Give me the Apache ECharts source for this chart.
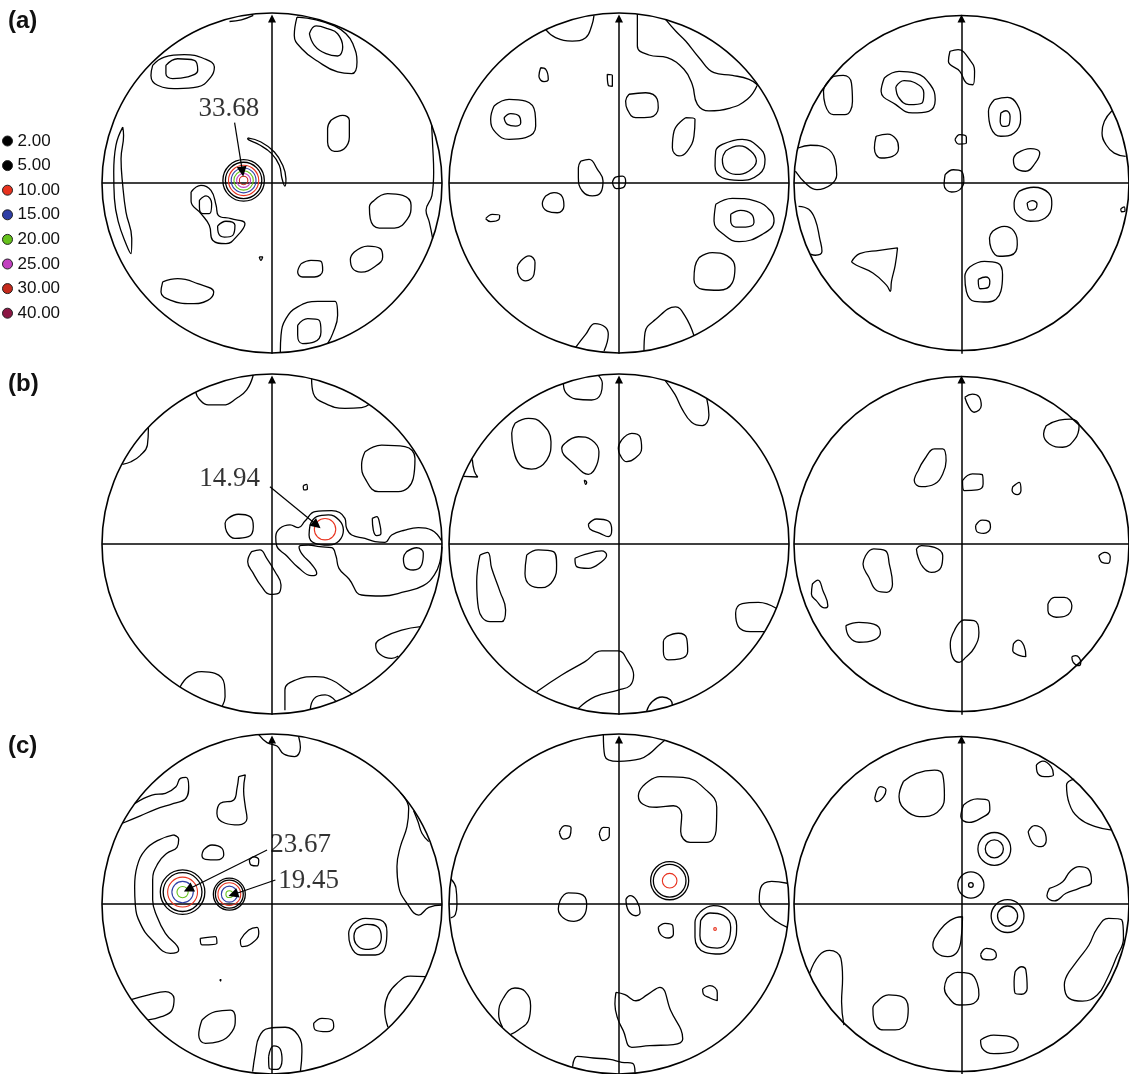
<!DOCTYPE html>
<html>
<head>
<meta charset="utf-8">
<script src="https://cdn.jsdelivr.net/npm/echarts/dist/echarts.min.js"></script>
<style>
  html, body { margin: 0; padding: 0; background: #ffffff; }
  #chart { width: 1129px; height: 1074px; }
</style>
</head>
<body>
<div id="chart"></div>
<script>
// Contour levels (multiples of random density) and the colour of each level line
const levels = ['2.00', '5.00', '10.00', '15.00', '20.00', '25.00', '30.00', '40.00'];
const levelColors = ['#000000', '#000000', '#e8321e', '#2e3ea6', '#66c21c', '#c23fc0', '#c52a1c', '#8b1643'];
const rowTitles = ['(a)', '(b)', '(c)'];

// Coordinates of every contour are given on the projection plane:
// net radius = 100, x to the right, y upwards.
// *Loops: closed level-2.00 contours, *Inner: closed level-5.00 contours,
// *Arcs: contours that run into the primitive circle (left open),
// *Peaks: near-circular contours around maxima [x, y, radius, levelIndex].

// ---------- row (a) ----------
const a1Loops = [
  [[-70.2,69.2],[-63.3,74.1],[-51.6,75.5],[-39.8,73.1],[-33.9,68.2],[-35.9,62.4],[-43.7,56.5],[-55.5,55.5],[-67.3,57.5],[-71.2,63.3]],
  [[14.7,97.6],[13.1,86.9],[17.5,79.0],[26.9,71.6],[38.6,65.3],[46.9,64.3],[50.0,71.2],[47.5,82.0],[43.5,87.8],[36.7,92.4],[26.0,96.0]],
  [[-87.8,32.9],[-91.8,22.2],[-93.1,6.5],[-92.7,-9.2],[-90.4,-22.9],[-85.9,-35.7],[-82.9,-41.6],[-82.5,-32.7],[-85.9,-17.1],[-87.8,-1.4],[-88.8,14.3],[-87.3,28.0]],
  [[34.7,36.9],[41.6,39.8],[45.5,36.9],[45.5,27.1],[42.5,20.2],[36.7,18.6],[32.7,24.1],[32.7,32.0]],
  [[-14.3,26.5],[-6.5,24.1],[1.4,18.2],[6.3,10.4],[8.2,2.5],[7.6,-1.8],[5.9,2.5],[4.3,10.4],[-0.2,17.3],[-7.5,22.5],[-13.9,25.5]],
  [[-47.6,-5.3],[-41.8,-1.4],[-35.9,-4.3],[-32.9,-13.1],[-31.6,-19.0],[-24.1,-21.0],[-15.9,-23.9],[-20.2,-30.8],[-27.1,-35.7],[-34.9,-33.7],[-36.9,-24.9],[-41.8,-18.0],[-47.6,-10.8]],
  [[-7.5,-43.5],[-5.5,-43.5],[-6.5,-45.5]],
  [[60.2,-10.2],[68.0,-6.3],[76.9,-7.3],[81.8,-13.1],[79.8,-21.0],[72.0,-26.5],[63.1,-26.5],[57.8,-21.0],[57.3,-14.1]],
  [[48.4,-40.6],[56.3,-37.1],[63.7,-38.6],[65.1,-43.5],[60.2,-49.4],[52.4,-52.4],[47.5,-50.4],[46.1,-44.9]],
  [[17.1,-47.5],[22.9,-45.5],[28.8,-46.1],[29.8,-51.4],[24.9,-55.3],[18.0,-55.3],[15.1,-52.4]],
  [[-64.3,-58.2],[-55.5,-56.3],[-43.7,-59.2],[-34.3,-64.1],[-37.8,-69.0],[-47.6,-71.0],[-59.4,-69.0],[-65.3,-64.1]]
];
const a1Inner = [
  [[-62.4,69.2],[-55.5,73.1],[-45.7,72.2],[-43.7,66.3],[-49.6,62.4],[-58.4,61.4],[-62.4,64.3]],
  [[22.0,87.8],[25.9,92.4],[32.7,90.8],[38.6,87.8],[41.6,80.0],[38.6,74.7],[31.8,76.1],[24.9,81.0]],
  [[-42.7,-10.2],[-38.8,-7.6],[-35.5,-12.2],[-36.9,-18.0],[-40.8,-18.0],[-42.7,-14.1]],
  [[-32.0,-25.3],[-27.1,-22.5],[-21.8,-24.9],[-23.1,-30.8],[-28.0,-31.8],[-31.6,-29.2]],
  [[15.1,-83.7],[21.0,-79.8],[27.8,-80.8],[28.8,-87.6],[24.9,-93.5],[18.0,-94.5],[15.1,-89.6]]
];
const a1Arcs = [
  [[-25.0,95.0],[-18.0,96.0],[-11.0,98.6]],
  [[93.9,33.9],[94.5,22.2],[95.1,6.5],[94.1,-7.3],[90.6,-16.1],[92.5,-22.9],[94.5,-32.7]],
  [[4.9,-99.6],[5.3,-89.6],[8.2,-79.8],[15.1,-72.9],[26.9,-69.6],[37.1,-69.6],[38.6,-77.8],[35.7,-88.6],[32.7,-94.5]]
];
const a1Peaks = [[-16.7,1.5,12.2,0],[-16.7,1.5,10.7,1],[-16.7,1.5,8.9,2],[-16.7,1.5,7.3,3],[-16.7,1.5,5.7,4],[-16.7,1.5,4.1,5],[-16.7,1.5,2.5,6]];

const a2Loops = [
  [[-46.1,67.8],[-43.1,66.9],[-41.6,61.0],[-44.1,59.6],[-47.1,62.9]],
  [[-6.9,63.9],[-3.9,63.3],[-3.9,56.9],[-6.3,57.5]],
  [[-73.5,45.3],[-64.7,49.2],[-54.9,48.2],[-49.4,41.4],[-49.0,33.5],[-54.9,26.7],[-64.7,25.7],[-72.5,29.6],[-75.5,37.5]],
  [[5.9,52.2],[15.7,53.1],[22.5,49.2],[23.1,44.3],[18.6,38.8],[9.8,38.4],[4.9,43.3],[3.9,48.2]],
  [[39.2,38.4],[44.7,37.5],[44.1,27.6],[40.2,18.8],[35.3,15.9],[31.4,20.8],[32.4,30.6]],
  [[60.8,22.7],[72.5,25.7],[81.4,21.8],[85.9,13.9],[82.4,5.1],[70.6,1.6],[60.8,3.1],[56.5,10.0],[56.9,18.8]],
  [[-3.9,0.2],[-2.0,3.5],[2.0,4.1],[3.9,1.2],[2.4,-2.7],[-1.6,-3.3]],
  [[-22.5,12.9],[-17.6,13.9],[-12.7,8.0],[-9.4,1.2],[-10.8,-5.7],[-15.7,-7.6],[-21.6,-4.7],[-23.9,3.1],[-23.9,9.0]],
  [[-43.1,-7.6],[-38.2,-5.7],[-33.3,-8.2],[-32.4,-13.5],[-36.3,-17.5],[-42.2,-16.5],[-45.1,-12.2]],
  [[-78.4,-21.0],[-74.5,-18.4],[-70.2,-19.0],[-70.6,-21.4],[-75.5,-22.7]],
  [[56.9,-12.5],[66.7,-9.0],[80.4,-10.6],[89.2,-16.5],[91.2,-22.4],[84.3,-30.2],[70.6,-34.5],[62.7,-31.2],[55.9,-22.4]],
  [[47.1,-43.9],[54.9,-41.0],[63.7,-42.9],[68.2,-49.8],[66.7,-58.6],[58.8,-63.1],[49.0,-62.5],[44.1,-56.7],[44.7,-49.0]],
  [[-57.8,-45.9],[-52.9,-42.9],[-49.4,-46.9],[-50.0,-53.7],[-54.9,-57.6],[-58.8,-54.7],[-59.8,-49.8]]
];
const a2Inner = [
  [[-67.6,38.4],[-63.7,40.8],[-58.8,39.4],[-57.8,35.5],[-60.8,33.5],[-65.7,34.5]],
  [[62.7,18.8],[70.6,21.8],[77.5,18.8],[80.8,12.9],[76.5,7.1],[68.6,5.1],[62.4,8.0],[60.8,13.9]],
  [[65.7,-18.4],[71.6,-16.1],[78.0,-18.4],[79.4,-23.3],[74.5,-25.9],[68.6,-25.9],[65.7,-22.4]]
];
const a2Arcs = [
  [[-43.1,90.2],[-37.3,85.5],[-27.5,83.5],[-19.6,85.5],[-16.1,92.4],[-14.7,98.6]],
  [[10.8,99.4],[10.8,80.6],[17.6,75.3],[28.4,73.7],[38.2,66.9],[43.1,58.0],[46.1,46.3],[52.9,42.4],[64.7,43.9],[75.5,49.2],[81.4,57.6]],
  [[27.5,96.1],[33.3,89.4],[39.2,83.5],[47.1,73.7],[55.9,64.9],[66.7,63.3],[76.5,61.0],[81.4,57.8]],
  [[-25.5,-96.7],[-19.6,-89.0],[-14.1,-82.7],[-8.2,-84.7],[-6.3,-89.0],[-8.8,-98.8]],
  [[14.7,-98.8],[15.3,-88.0],[21.6,-80.2],[33.3,-72.9],[38.8,-78.2],[44.1,-89.8]]
];
const a2Peaks = [];

const a3Loops = [
  [[-6.9,77.5],[-2.0,78.4],[4.9,72.5],[7.8,65.7],[6.9,57.8],[2.9,58.8],[-1.0,65.7],[-7.8,71.6]],
  [[-76.5,62.7],[-70.6,63.3],[-65.7,58.8],[-65.1,48.0],[-69.6,40.2],[-76.5,40.2],[-81.4,46.1],[-82.4,53.9]],
  [[-46.1,61.8],[-37.3,65.7],[-27.5,64.7],[-18.6,57.8],[-15.7,49.0],[-19.6,42.2],[-29.4,41.2],[-39.2,46.1],[-48.0,53.9]],
  [[19.6,49.0],[27.5,50.4],[33.3,46.1],[35.3,37.3],[31.4,29.4],[23.5,27.5],[17.6,32.4],[16.1,42.2]],
  [[-51.0,27.5],[-44.1,28.8],[-38.8,25.5],[-37.6,20.6],[-41.2,15.7],[-48.0,14.7],[-52.0,20.6]],
  [[-3.9,25.5],[-1.0,28.4],[2.9,26.9],[2.9,23.5],[-1.6,22.9]],
  [[33.3,17.6],[41.2,20.2],[46.7,17.6],[44.1,11.8],[38.2,6.9],[32.4,8.8],[31.0,13.7]],
  [[-9.8,4.9],[-4.9,7.8],[0.0,6.9],[1.4,1.0],[-1.0,-3.9],[-5.9,-5.3],[-10.4,-1.0]],
  [[34.3,-4.9],[43.1,-2.5],[52.0,-5.9],[53.9,-12.7],[50.0,-20.6],[41.2,-22.5],[33.3,-18.6],[31.4,-11.8]],
  [[95.1,-15.1],[97.1,-14.1],[97.6,-16.5],[95.7,-16.9]],
  [[18.6,-28.4],[25.5,-25.5],[31.4,-28.4],[33.3,-36.3],[29.4,-42.5],[22.5,-43.1],[17.6,-38.2],[16.7,-32.4]],
  [[-65.7,-46.5],[-60.8,-41.6],[-49.0,-39.6],[-38.2,-38.2],[-39.6,-48.4],[-41.8,-57.8],[-42.5,-63.7],[-44.7,-60.2],[-52.9,-52.9],[-62.7,-48.4]],
  [[4.9,-49.4],[13.7,-46.1],[21.6,-47.1],[24.5,-53.9],[23.5,-63.7],[15.7,-70.0],[7.8,-69.6],[2.9,-63.7],[2.0,-54.9]]
];
const a3Inner = [
  [[-39.2,56.5],[-34.3,60.2],[-27.5,58.8],[-22.5,52.9],[-23.5,47.1],[-31.4,46.1],[-37.3,50.0]],
  [[23.5,41.2],[26.5,42.5],[29.0,39.2],[28.4,34.3],[25.1,33.3],[23.1,36.3]],
  [[39.2,-11.8],[42.2,-10.4],[45.1,-12.4],[44.1,-15.1],[40.8,-15.9]],
  [[10.0,-56.7],[14.5,-55.3],[16.9,-57.8],[15.9,-61.4],[11.2,-62.2]]
];
const a3Arcs = [
  [[89.8,42.5],[85.3,36.3],[83.9,29.4],[86.3,22.5],[91.2,17.6],[98.0,15.7]],
  [[-97.6,20.6],[-90.2,22.2],[-80.8,20.6],[-75.5,13.7],[-74.5,4.9],[-78.0,-1.0],[-86.3,-3.9],[-92.2,-1.0],[-99.2,7.0]],
  [[-97.3,-13.7],[-91.2,-15.5],[-87.3,-21.6],[-84.7,-32.4],[-83.3,-40.2],[-87.3,-42.5],[-90.2,-41.8]]
];
const a3Peaks = [];

// ---------- row (b) ----------
const b1Loops = [
  [[54.7,54.3],[64.5,58.2],[78.2,57.3],[84.1,50.4],[83.1,38.6],[74.3,30.8],[62.5,30.8],[54.7,38.6],[52.7,46.5]],
  [[18.4,34.3],[20.4,35.1],[20.8,32.4],[18.8,31.8]],
  [[-25.7,15.1],[-19.8,17.5],[-12.9,16.1],[-11.0,10.2],[-13.9,4.3],[-21.8,3.3],[-26.7,7.3],[-27.6,12.2]],
  [[59.0,15.1],[61.6,16.1],[63.5,11.2],[64.1,6.3],[61.6,4.9],[59.6,8.2]],
  [[-12.0,-4.5],[-7.1,-3.5],[-3.1,-8.4],[1.8,-16.3],[5.3,-24.1],[3.7,-29.0],[-1.2,-29.6],[-6.1,-25.1],[-11.0,-17.3],[-14.3,-10.4]]
];
const b1Inner = [
  [[22.4,11.2],[26.3,16.1],[33.1,17.1],[39.4,14.1],[42.0,8.2],[39.4,1.8],[33.1,-0.6],[25.3,0.4],[21.8,5.3]],
  [[79.2,-4.5],[85.1,-2.2],[89.0,-5.5],[88.0,-12.4],[83.1,-15.3],[78.2,-13.3],[77.3,-8.4]]
];
const b1Arcs = [
  [[-44.9,89.4],[-42.9,85.3],[-37.5,81.8],[-28.6,81.8],[-20.8,85.7],[-14.9,90.6],[-11.0,99.4]],
  [[23.3,97.3],[24.3,88.6],[31.2,82.7],[42.9,79.8],[52.7,80.2],[57.3,82.2]],
  [[-72.7,68.6],[-73.3,58.2],[-77.6,52.0],[-82.9,48.4],[-88.0,46.9]],
  [[99.8,1.8],[93.9,8.2],[86.1,9.6],[78.2,8.2],[70.4,5.3],[66.5,1.0],[60.6,1.4],[54.7,3.3],[46.9,5.3],[43.9,9.2],[42.9,15.1],[35.1,19.6],[25.3,19.0],[19.4,13.5],[15.5,9.6],[10.6,11.2],[4.7,9.2],[2.2,4.3],[2.7,-1.0],[8.6,-6.9],[15.5,-13.9],[23.3,-18.6],[26.3,-17.3],[23.3,-12.0],[17.8,-6.1],[15.9,-1.6],[21.4,-0.6],[28.2,-1.6],[35.1,-2.2],[37.6,-6.9],[39.4,-14.3],[45.3,-20.6],[52.7,-30.0],[64.5,-30.6],[78.2,-28.0],[89.0,-24.5],[95.5,-18.2],[98.8,-10.4],[100.0,-1.6]],
  [[87.5,-48.6],[76.3,-50.6],[66.5,-54.5],[61.0,-59.4],[63.5,-64.9],[70.4,-67.3],[74.3,-65.9]],
  [[-54.1,-84.1],[-49.2,-78.0],[-41.4,-75.1],[-33.5,-76.1],[-28.0,-82.5],[-27.6,-89.8],[-29.2,-95.3]],
  [[7.6,-97.8],[7.6,-85.9],[13.9,-80.0],[25.3,-78.0],[35.1,-80.0],[43.9,-85.9],[47.3,-88.4]],
  [[22.5,-97.5],[24.9,-90.8],[31.2,-88.8],[37.5,-92.4]]
];
const b1Peaks = [[31.2,8.7,6.3,2]];

const b2Loops = [
  [[-61.2,71.0],[-53.3,73.9],[-45.5,71.0],[-40.0,60.2],[-42.5,49.4],[-51.4,44.1],[-58.2,46.5],[-62.2,56.3],[-63.1,65.1]],
  [[-31.8,59.2],[-23.9,63.1],[-16.1,61.2],[-11.8,54.3],[-13.1,46.5],[-18.0,41.0],[-25.9,46.5],[-33.7,56.3]],
  [[1.6,61.2],[7.5,65.1],[12.4,63.1],[13.3,56.3],[9.4,50.4],[4.5,48.4],[0.6,52.4],[-0.4,56.3]],
  [[-20.4,37.6],[-19.0,36.3],[-19.6,35.1]],
  [[-18.0,11.6],[-13.1,14.7],[-6.3,13.5],[-4.3,8.2],[-6.3,4.3],[-11.2,6.3],[-17.1,8.8]],
  [[-54.3,-6.5],[-47.5,-3.5],[-38.6,-4.5],[-36.7,-12.4],[-38.6,-21.2],[-45.5,-25.7],[-52.4,-24.1],[-55.3,-17.3]],
  [[-25.9,-8.4],[-20.0,-6.1],[-10.2,-4.1],[-7.3,-6.5],[-10.2,-10.4],[-18.0,-14.3],[-24.9,-13.3]],
  [[-81.8,-6.5],[-77.3,-4.9],[-74.9,-14.3],[-70.0,-28.0],[-66.7,-38.8],[-69.0,-45.7],[-75.9,-45.7],[-82.7,-37.8],[-83.7,-22.2]],
  [[28.0,-54.5],[34.9,-52.5],[39.8,-55.5],[40.4,-63.3],[35.9,-67.6],[29.0,-68.2],[26.1,-63.3],[26.1,-57.5]]
];
const b2Inner = [];
const b2Arcs = [
  [[-32.7,94.5],[-31.4,89.2],[-25.5,85.3],[-16.1,84.7],[-10.6,88.6],[-9.8,94.5],[-12.2,99.2]],
  [[27.1,96.3],[32.9,88.0],[36.9,79.8],[42.7,71.6],[49.0,69.6],[52.9,75.9],[51.6,85.7]],
  [[-86.3,49.8],[-85.1,42.9],[-83.1,39.4],[-91.4,39.8]],
  [[92.5,-37.8],[82.0,-34.3],[72.5,-35.1],[68.6,-40.8],[70.2,-48.6],[77.1,-51.6],[85.5,-51.6]],
  [[-48.4,-86.9],[-33.7,-77.1],[-20.0,-69.2],[-10.2,-62.9],[-0.4,-62.9],[5.1,-68.8],[8.6,-77.1],[6.5,-83.3],[-0.4,-85.9],[-14.1,-89.8],[-23.9,-96.7]],
  [[16.3,-98.2],[19.6,-92.7],[25.5,-90.0],[30.2,-91.6],[31.4,-94.9]]
];
const b2Peaks = [];

const b3Loops = [
  [[2.0,86.3],[6.5,88.2],[10.4,86.7],[11.8,81.4],[7.5,77.5],[4.5,80.4]],
  [[50.6,69.6],[58.4,72.9],[65.3,73.5],[70.2,69.6],[67.8,61.8],[60.4,56.9],[52.5,58.8],[49.0,64.7]],
  [[-25.9,43.1],[-22.0,50.0],[-16.1,55.9],[-11.2,55.9],[-9.2,49.0],[-11.2,41.2],[-16.1,35.3],[-23.9,33.7],[-28.2,37.3]],
  [[0.6,37.3],[6.5,41.2],[12.4,40.8],[12.9,35.3],[9.4,31.8],[1.6,31.4]],
  [[30.6,33.7],[34.5,36.3],[35.5,31.4],[33.3,29.0],[30.2,31.4]],
  [[8.4,10.8],[12.4,14.1],[16.3,13.3],[17.3,9.8],[13.3,6.3],[9.0,7.5]],
  [[-26.9,-2.9],[-23.9,-1.0],[-16.1,-2.0],[-11.2,-6.9],[-12.2,-13.7],[-18.0,-16.7],[-22.9,-13.7],[-25.9,-7.8]],
  [[-57.3,-6.9],[-52.4,-2.9],[-45.5,-3.9],[-43.1,-11.8],[-41.2,-23.5],[-44.5,-28.4],[-50.4,-27.5],[-55.3,-19.6],[-58.8,-11.8]],
  [[82.0,-6.9],[85.5,-4.9],[88.8,-7.5],[87.5,-11.4],[83.9,-10.8]],
  [[-89.0,-23.5],[-85.7,-21.2],[-82.7,-27.5],[-79.8,-36.3],[-81.8,-37.6],[-86.7,-33.3],[-89.6,-29.4]],
  [[51.6,-35.3],[55.5,-31.4],[61.4,-31.4],[65.9,-36.3],[62.4,-42.2],[56.5,-43.1],[51.6,-39.2]],
  [[-69.0,-48.0],[-61.2,-46.1],[-52.4,-47.1],[-48.4,-52.0],[-52.4,-56.5],[-61.2,-57.8],[-67.1,-54.5]],
  [[-4.3,-51.0],[1.6,-44.7],[7.5,-45.1],[10.4,-52.0],[7.8,-60.8],[2.5,-66.7],[-1.4,-69.6],[-5.3,-66.7],[-6.7,-58.8]],
  [[31.0,-58.8],[33.9,-56.5],[37.3,-59.8],[38.4,-66.3],[34.9,-65.7],[30.6,-62.7]],
  [[65.9,-66.3],[68.2,-65.7],[71.2,-69.6],[70.2,-71.6],[66.7,-69.6]]
];
const b3Inner = [];
const b3Arcs = [];
const b3Peaks = [];

// ---------- row (c) ----------
const c1Loops = [
  [[-19.6,74.9],[-15.7,75.9],[-16.7,67.1],[-15.7,57.3],[-14.7,50.4],[-19.6,46.5],[-27.5,47.5],[-32.4,53.3],[-30.4,59.2],[-22.5,61.2],[-20.6,68.0]],
  [[-57.8,40.6],[-66.7,37.6],[-74.5,31.8],[-79.4,22.0],[-80.8,10.2],[-80.4,-0.6],[-77.5,-11.4],[-70.6,-21.2],[-59.8,-29.0],[-54.9,-27.1],[-62.7,-17.3],[-67.6,-7.5],[-70.2,2.4],[-70.2,14.1],[-67.1,23.9],[-61.8,29.8],[-55.9,33.3],[-54.9,38.0]],
  [[-40.2,31.8],[-35.3,34.7],[-29.4,32.7],[-28.4,28.8],[-32.4,25.9],[-39.2,26.3],[-41.2,28.8]],
  [[-13.3,25.9],[-10.8,27.8],[-7.8,25.9],[-8.8,22.4],[-12.2,22.9]],
  [[-42.2,-20.2],[-33.3,-19.2],[-32.4,-23.1],[-41.2,-24.1]],
  [[-18.6,-21.2],[-13.7,-15.3],[-8.8,-13.7],[-7.8,-17.3],[-11.8,-23.1],[-17.6,-25.1]],
  [[-30.7,-44.5],[-30.0,-44.5],[-30.3,-45.3]],
  [[48.0,-11.4],[54.9,-8.4],[63.7,-9.4],[67.6,-16.3],[66.7,-25.1],[60.8,-30.0],[52.0,-30.0],[46.1,-24.1],[45.1,-17.3]],
  [[-41.2,-68.2],[-33.3,-63.3],[-24.5,-62.4],[-21.6,-67.3],[-23.5,-75.1],[-31.4,-81.0],[-39.2,-82.0],[-43.1,-77.1]],
  [[24.5,-70.2],[29.4,-67.3],[35.3,-68.2],[36.3,-72.2],[32.4,-75.1],[25.5,-74.1]]
];
const c1Inner = [
  [[49.4,-14.9],[55.9,-12.0],[62.4,-13.7],[64.3,-19.6],[61.8,-25.1],[54.9,-26.7],[49.4,-23.5],[48.2,-18.8]],
  [[-2.0,-89.8],[1.0,-83.5],[4.9,-85.5],[5.9,-91.8],[2.9,-97.3],[-1.6,-96.7]]
];
const c1Arcs = [
  [[-7.8,99.6],[-2.9,94.9],[2.9,92.9],[6.9,88.2],[13.3,86.7],[16.7,92.2],[15.7,98.4]],
  [[-80.6,59.2],[-70.6,64.1],[-62.7,65.1],[-56.5,69.0],[-53.9,73.9],[-50.6,74.5],[-49.0,69.0],[-50.6,62.2],[-57.8,59.2],[-68.6,55.7],[-77.5,51.8],[-88.0,47.5]],
  [[75.5,65.5],[80.4,56.3],[79.4,45.5],[75.5,33.7],[73.5,22.0],[74.5,10.2],[79.4,0.4],[86.3,-6.5],[92.2,-2.0],[100.0,-0.6]],
  [[83.3,54.9],[85.9,48.4],[88.2,41.6],[92.2,36.7]],
  [[-82.4,-56.1],[-72.5,-53.5],[-62.7,-51.6],[-57.6,-55.7],[-58.8,-62.4],[-65.1,-66.3],[-72.9,-68.2]],
  [[90.2,-42.7],[81.4,-42.4],[73.5,-46.7],[68.2,-53.5],[66.3,-62.4],[68.2,-72.5]],
  [[-11.4,-98.6],[-9.8,-87.8],[-7.5,-78.0],[-2.0,-73.1],[7.8,-72.5],[15.3,-77.1],[17.6,-86.9],[16.7,-98.6]]
];
const c1Peaks = [
  [-52.6,7.0,13.1,0],[-52.6,7.0,11.4,1],[-52.6,7.0,8.8,2],[-52.6,7.0,6.3,3],[-52.6,7.0,3.3,4],
  [-25.1,5.8,9.4,0],[-25.1,5.8,8.2,1],[-25.1,5.8,6.7,2],[-25.1,5.8,4.7,3],[-25.1,5.8,2.0,4]
];

const c2Loops = [
  [[14.3,69.6],[24.1,74.9],[37.8,74.5],[51.6,66.7],[57.5,56.9],[57.1,43.1],[51.6,36.3],[41.8,36.3],[36.3,42.7],[36.9,52.5],[32.0,57.8],[22.2,56.9],[13.9,58.8],[11.4,63.7]],
  [[-35.1,42.2],[-31.8,46.1],[-28.2,44.7],[-28.8,40.2],[-32.7,38.2]],
  [[-11.6,41.2],[-9.2,45.1],[-5.7,44.7],[-5.7,40.2],[-9.6,37.3]],
  [[-34.7,2.0],[-29.8,6.5],[-22.9,5.9],[-19.0,0.0],[-20.6,-6.9],[-26.5,-10.2],[-32.7,-8.2],[-35.7,-2.9]],
  [[4.1,2.9],[6.5,4.9],[10.4,2.0],[12.4,-4.9],[10.0,-6.9],[5.5,-3.9]],
  [[47.6,-4.9],[55.5,-1.0],[64.3,-3.9],[69.2,-12.7],[67.3,-23.5],[59.4,-29.4],[50.6,-28.4],[44.7,-19.6],[44.7,-10.8]],
  [[23.1,-13.7],[27.1,-11.4],[31.6,-12.7],[32.0,-17.6],[29.0,-20.0],[24.5,-18.0]],
  [[49.2,-50.0],[53.5,-48.0],[57.8,-52.0],[57.8,-56.9],[53.5,-55.3],[49.6,-52.9]],
  [[-1.8,-52.0],[3.5,-53.3],[10.0,-56.9],[16.7,-53.3],[24.1,-49.0],[30.4,-62.7],[37.5,-79.4],[32.0,-82.7],[18.2,-83.3],[7.5,-84.3],[2.5,-74.5],[-1.0,-66.7],[-2.4,-58.8]]
];
const c2Inner = [
  [[48.0,-9.8],[53.5,-5.3],[61.4,-6.7],[65.7,-13.7],[64.3,-21.6],[57.8,-25.9],[51.6,-25.1],[47.6,-18.6]]
];
const c2Arcs = [
  [[-9.2,99.6],[-8.4,87.3],[-0.4,83.9],[12.4,85.3],[18.2,88.6],[23.1,93.1],[27.1,96.5]],
  [[-98.8,14.7],[-95.9,9.4],[-95.3,0.0],[-96.3,-6.3],[-99.0,-8.2]],
  [[99.0,12.2],[89.8,13.3],[83.3,9.4],[82.5,2.4],[85.9,-4.3],[92.4,-10.2],[99.0,-13.7]],
  [[-68.5,-72.5],[-70.8,-64.7],[-68.0,-55.3],[-61.2,-49.4],[-55.3,-51.4],[-52.0,-59.8],[-53.3,-68.6],[-59.2,-74.1],[-63.7,-76.7]],
  [[-27.3,-95.7],[-24.5,-89.6],[-15.1,-90.6],[-5.3,-91.4],[1.6,-93.1],[8.0,-93.7],[9.4,-99.2]]
];
const c2Peaks = [[29.8,13.7,11.2,0],[29.8,13.7,9.6,1],[29.8,13.7,4.3,2],[56.5,-14.7,0.8,2]];

const c3Loops = [
  [[44.7,81.8],[48.6,84.1],[53.5,80.8],[54.9,75.9],[49.6,74.9],[45.1,77.8]],
  [[-51.8,62.2],[-48.4,69.0],[-45.1,67.1],[-46.5,63.1],[-50.4,60.2]],
  [[-34.7,72.0],[-26.9,76.9],[-16.1,78.8],[-11.2,75.9],[-10.2,64.1],[-12.2,56.3],[-22.0,51.4],[-31.8,53.9],[-37.3,63.1]],
  [[1.2,58.2],[9.4,61.8],[16.3,60.6],[16.9,55.3],[11.4,50.4],[4.5,48.0],[-0.4,51.4]],
  [[39.8,42.5],[43.7,46.1],[49.0,43.5],[50.6,37.6],[47.6,33.7],[42.7,35.7]],
  [[52.5,9.2],[60.4,13.1],[64.7,19.0],[70.2,22.0],[75.7,20.6],[77.6,13.1],[70.2,9.2],[62.4,6.3],[55.5,1.8],[51.0,4.9]],
  [[-16.1,-20.2],[-10.2,-12.4],[-3.3,-8.0],[0.6,-7.5],[0.0,-18.2],[-2.4,-28.0],[-8.2,-31.0],[-14.5,-29.0],[-17.1,-24.1]],
  [[11.4,-29.6],[14.9,-26.1],[19.2,-27.1],[20.8,-30.4],[17.3,-32.9],[12.9,-32.4]],
  [[64.3,-39.8],[70.2,-32.0],[76.1,-24.1],[81.0,-14.3],[87.8,-8.4],[95.7,-9.4],[96.7,-20.2],[92.2,-32.0],[86.9,-44.1],[81.0,-53.5],[72.2,-57.1],[64.3,-55.5],[61.4,-47.6]],
  [[32.0,-39.8],[35.9,-36.9],[38.4,-38.8],[39.2,-49.6],[35.9,-53.1],[32.0,-52.5],[31.4,-45.7]],
  [[-8.6,-43.7],[-2.4,-40.2],[4.5,-40.8],[9.4,-46.7],[10.4,-53.5],[5.5,-59.0],[-1.4,-59.4],[-8.2,-54.5],[-10.2,-49.6]],
  [[-50.4,-57.5],[-43.5,-53.5],[-35.7,-54.5],[-31.8,-61.4],[-32.7,-69.2],[-39.6,-74.1],[-46.5,-74.1],[-52.4,-68.2],[-52.9,-61.4]],
  [[11.4,-80.0],[19.2,-77.1],[29.0,-78.0],[33.9,-82.9],[29.0,-87.3],[19.2,-88.0],[12.4,-84.9]]
];
const c3Inner = [];
const c3Arcs = [
  [[67.3,73.5],[62.7,70.0],[64.3,59.2],[70.2,50.4],[80.0,45.5],[89.8,43.5]],
  [[-90.6,-40.8],[-85.1,-30.4],[-78.8,-27.3],[-72.0,-32.0],[-71.0,-43.7],[-71.6,-57.5],[-70.2,-71.2]]
];
const c3Peaks = [
  [19.6,32.4,9.8,0],[19.6,32.4,5.4,1],
  [5.6,11.2,7.8,0],[5.6,11.2,1.4,1],
  [27.5,-7.1,9.8,0],[27.5,-7.1,6.0,1]
];

// Maximum densities, the net they belong to, where the value is written and its leader line
const peakValues = ['33.68', '14.94', '23.67', '19.45'];
const peakPanel = [0, 3, 6, 6];
const peakLabelAt = [[-25.3, 43.6], [-25.0, 38.0], [16.8, 34.6], [21.6, 13.8]];
const leaderFrom = [[-22.0, 35.5], [-1.2, 33.7], [-2.9, 31.8], [2.0, 14.1]];
const leaderTo = [[-17.4, 6.8], [26.3, 11.2], [-49.2, 8.7], [-22.8, 5.6]];

// ---------- layout of the 3 x 3 nets ----------
const colX = [272, 619, 964];
const rowY = [183, 544, 904];
const R = 170;

const panelLoops = [a1Loops, a2Loops, a3Loops, b1Loops, b2Loops, b3Loops, c1Loops, c2Loops, c3Loops];
const panelInner = [a1Inner, a2Inner, a3Inner, b1Inner, b2Inner, b3Inner, c1Inner, c2Inner, c3Inner];
const panelArcs  = [a1Arcs, a2Arcs, a3Arcs, b1Arcs, b2Arcs, b3Arcs, c1Arcs, c2Arcs, c3Arcs];
const panelPeaks = [a1Peaks, a2Peaks, a3Peaks, b1Peaks, b2Peaks, b3Peaks, c1Peaks, c2Peaks, c3Peaks];

// Chain contours into one polyline, broken by empty points between contours
function chain(list, close) {
  const out = [];
  list.forEach(function (pts) {
    pts.forEach(function (p) { out.push(p); });
    if (close) out.push(pts[0]);
    out.push(['-', '-']);
  });
  return out;
}

function circleRenderer(color, width) {
  return function (params, api) {
    const c = api.coord([api.value(0), api.value(1)]);
    const r = api.size([api.value(2), 0])[0];
    return {
      type: 'circle',
      shape: { cx: c[0], cy: c[1], r: r },
      style: { fill: 'none', stroke: color, lineWidth: width }
    };
  };
}

const grids = [], xAxes = [], yAxes = [], series = [];

panelLoops.forEach(function (loops, i) {
  const cx = colX[i % 3], cy = rowY[Math.floor(i / 3)];
  grids.push({ left: cx - R, top: cy - R, width: 2 * R, height: 2 * R });
  xAxes.push({ type: 'value', gridIndex: i, min: -100, max: 100, show: false });
  yAxes.push({ type: 'value', gridIndex: i, min: -100, max: 100, show: false });
  const ax = { xAxisIndex: i, yAxisIndex: i };

  // primitive circle
  series.push(Object.assign({
    type: 'custom', name: 'net', silent: true, z: 2,
    data: [[0, 0, 100]], renderItem: circleRenderer('#000', 1.6)
  }, ax));

  // reference axes; the vertical one carries the arrow
  series.push(Object.assign({
    type: 'lines', coordinateSystem: 'cartesian2d', silent: true, z: 2, color: '#000',
    symbol: 'none', lineStyle: { color: '#000', width: 1.5, opacity: 1 },
    data: [{ coords: [[-100, 0], [100, 0]] }]
  }, ax));
  series.push(Object.assign({
    type: 'lines', coordinateSystem: 'cartesian2d', silent: true, z: 2, color: '#000',
    symbol: ['none', 'triangle'], symbolSize: [0, 8],
    lineStyle: { color: '#000', width: 1.5, opacity: 1 },
    data: [{ coords: [[0, -101.5], [0, 96.8]] }]
  }, ax));

  // level 2.00 contours
  series.push(Object.assign({
    type: 'line', name: levels[0], silent: true, z: 3, color: levelColors[0],
    itemStyle: { color: levelColors[0] },
    showSymbol: false, connectNulls: false, smooth: 0.45,
    lineStyle: { color: levelColors[0], width: 1.3 },
    data: chain(loops, true).concat(chain(panelArcs[i], false))
  }, ax));

  // level 5.00 contours
  if (panelInner[i].length) {
    series.push(Object.assign({
      type: 'line', name: levels[1], silent: true, z: 3, color: levelColors[1],
      itemStyle: { color: levelColors[1] },
      showSymbol: false, connectNulls: false, smooth: 0.45,
      lineStyle: { color: levelColors[1], width: 1.3 },
      data: chain(panelInner[i], true)
    }, ax));
  }

  // contours ringing the maxima, grouped by level
  const byLevel = {};
  panelPeaks[i].forEach(function (pk) {
    (byLevel[pk[3]] = byLevel[pk[3]] || []).push(pk);
  });
  Object.keys(byLevel).forEach(function (lv) {
    const col = levelColors[lv];
    series.push(Object.assign({
      type: 'custom', name: levels[lv], silent: true, z: 4,
      itemStyle: { color: col },
      data: byLevel[lv], renderItem: circleRenderer(col, lv < 2 ? 1.3 : 1.1)
    }, ax));
  });
});

// 40.00 has no contour in any net but stays in the key
series.push({ type: 'line', name: levels[7], xAxisIndex: 0, yAxisIndex: 0, data: [], color: levelColors[7], itemStyle: { color: levelColors[7] } });

// maxima: leader with arrowhead and the density value
peakValues.forEach(function (val, k) {
  const ax = { xAxisIndex: peakPanel[k], yAxisIndex: peakPanel[k] };
  series.push(Object.assign({
    type: 'lines', coordinateSystem: 'cartesian2d', silent: true, z: 6, color: '#000',
    symbol: ['none', 'triangle'], symbolSize: [0, 10],
    lineStyle: { color: '#000', width: 1.2, opacity: 1 },
    data: [{ coords: [leaderFrom[k], leaderTo[k]] }]
  }, ax));
  series.push(Object.assign({
    type: 'scatter', silent: true, z: 7, symbolSize: 1,
    itemStyle: { color: 'rgba(0,0,0,0)' },
    label: {
      show: true, position: 'inside', formatter: '{b}',
      fontFamily: 'Liberation Serif, Times New Roman, serif', fontSize: 27, color: '#000'
    },
    data: [{ name: val, value: peakLabelAt[k] }]
  }, ax));
});

const option = {
  backgroundColor: '#ffffff',
  animation: false,
  title: rowTitles.map(function (t, r) {
    return {
      text: t, left: 8, top: [9, 372, 734][r], padding: 0,
      textStyle: { fontFamily: 'Liberation Sans, Arial, sans-serif', fontWeight: 'bold', fontSize: 24, color: '#111' }
    };
  }),
  legend: {
    data: levels, orient: 'vertical', left: 2, top: 131,
    icon: 'circle', itemWidth: 10, itemHeight: 10, itemGap: 4.6,
    selectedMode: false, padding: 0,
    itemStyle: { borderColor: '#222', borderWidth: 1 },
    textStyle: { fontFamily: 'Liberation Sans, Arial, sans-serif', fontSize: 17, color: '#111', lineHeight: 20 }
  },
  grid: grids,
  xAxis: xAxes,
  yAxis: yAxes,
  series: series
};

const chart = echarts.init(document.getElementById('chart'), null, { renderer: 'canvas', width: 1129, height: 1074 });
chart.setOption(option);
</script>
</body>
</html>
